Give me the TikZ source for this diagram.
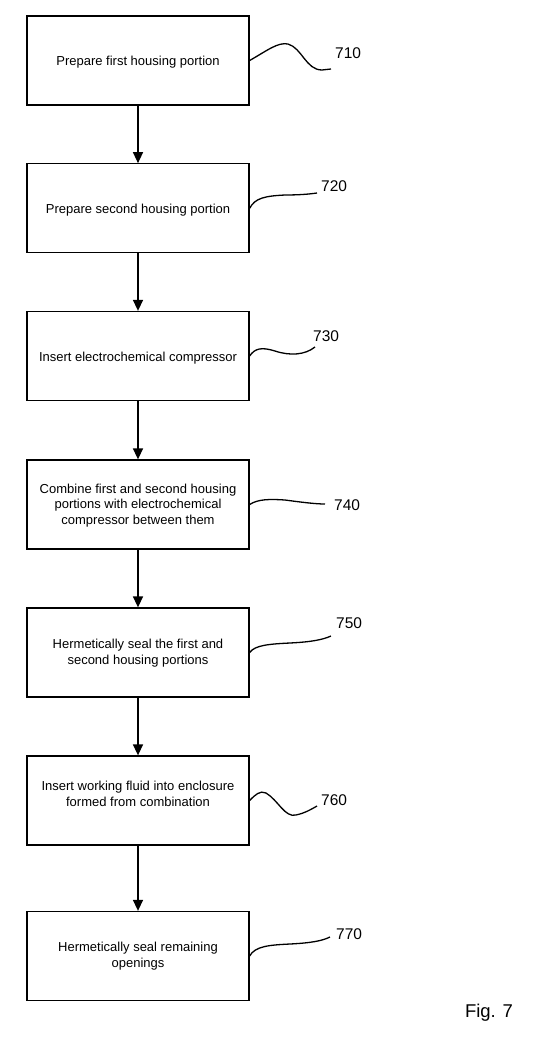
\documentclass[tikz,border=0pt]{standalone}
\usepackage{fontspec}
\setmainfont{Liberation Sans}
\usetikzlibrary{arrows.meta}
\tikzset{
  stepbox/.style={draw, line width=1.3pt, minimum width=222pt, minimum height=89pt, inner sep=0pt, align=center, font=\fontsize{13}{15.6}\selectfont},
  flow/.style={line width=1.4pt, -{Triangle[length=11pt,width=10pt]}},
  lead/.style={line width=1.3pt},
  refnum/.style={anchor=west, inner sep=0pt, font=\fontsize{15.5}{18}\selectfont}
}
\newcommand{\upstrut}{\rule{0pt}{13pt}}
\begin{document}
\begin{tikzpicture}[x=1pt,y=-1pt]
\useasboundingbox (0,0) rectangle (541,1058);
\fill[white] (0,0) rectangle (541,1058);
\node[stepbox] (b1) at (138,60.5) {\upstrut Prepare first housing portion};
\node[stepbox] (b2) at (138,208.3) {\upstrut Prepare second housing portion};
\node[stepbox] (b3) at (138,356) {\upstrut Insert electrochemical compressor};
\node[stepbox] (b4) at (138,504.5) {\rule{0pt}{11pt}Combine first and second housing\\portions with electrochemical\\compressor between them};
\node[stepbox] (b5) at (138,652.5) {\rule{0pt}{11pt}Hermetically seal the first and\\second housing portions};
\node[stepbox] (b6) at (138,800.5) {Insert working fluid into enclosure\\formed from combination\rule[-14pt]{0pt}{0pt}};
\node[stepbox] (b7) at (138,956) {Hermetically seal remaining\\openings};
\draw[flow] (b1) -- (b2);
\draw[flow] (b2) -- (b3);
\draw[flow] (b3) -- (b4);
\draw[flow] (b4) -- (b5);
\draw[flow] (b5) -- (b6);
\draw[flow] (b6) -- (b7);
\node[refnum] (l710) at (335,53) {710};
\node[refnum] (l720) at (321,186) {720};
\node[refnum] (l730) at (313,336) {730};
\node[refnum] (l740) at (334,505) {740};
\node[refnum] (l750) at (336,623) {750};
\node[refnum] (l760) at (321,800) {760};
\node[refnum] (l770) at (336,934) {770};
\draw[lead] (b1.east) .. controls (268,50) and (278,42) .. (288,44) .. controls (302,48) and (306,70) .. (322,70) -- (331,69);
\draw[lead] (b2.east) .. controls (255,198) and (265,196) .. (285,195) .. controls (300,195) and (310,194) .. (317,193);
\draw[lead] (b3.east) .. controls (255,348) and (262,347) .. (275,351) .. controls (290,356) and (305,355) .. (315,347);
\draw[lead] (b4.east) .. controls (258,499) and (270,499) .. (285,500) .. controls (300,502) and (315,504) .. (325,504);
\draw[lead] (b5.east) .. controls (255,645) and (270,644) .. (290,643) .. controls (310,642) and (322,640) .. (331,636);
\draw[lead] (b6.east) .. controls (255,795) and (260,790) .. (266,793) .. controls (278,800) and (285,818) .. (296,815) .. controls (305,813) and (310,810) .. (317,806);
\draw[lead] (b7.east) .. controls (255,946) and (270,945) .. (290,944) .. controls (310,943) and (322,941) .. (330,937);
\node[font=\fontsize{18.5}{22}\selectfont, inner sep=0pt] (fig) at (489,1013) {Fig. 7};
\end{tikzpicture}
\end{document}
